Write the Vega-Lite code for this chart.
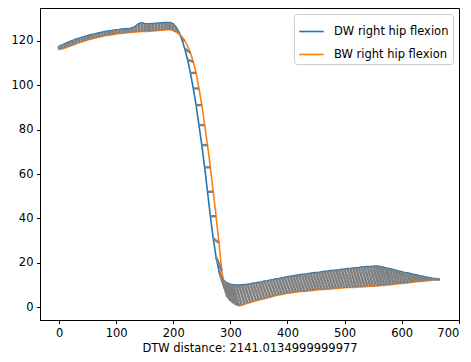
{
  "$schema": "https://vega.github.io/schema/vega-lite/v6.json",
  "width": 419,
  "height": 312,
  "autosize": {"type": "none"},
  "padding": {"left": 40, "top": 8, "right": 12, "bottom": 42},
  "background": "white",
  "config": {
    "view": {"stroke": "black", "strokeWidth": 1},
    "font": "DejaVu Sans",
    "axis": {
      "grid": false,
      "domainColor": "black",
      "domainWidth": 1,
      "tickColor": "black",
      "tickWidth": 1,
      "tickSize": 3.5,
      "labelFont": "DejaVu Sans",
      "labelFontSize": 11.5,
      "labelColor": "black",
      "labelPadding": 3.5,
      "titleFont": "DejaVu Sans",
      "titleFontSize": 11.5,
      "titleFontWeight": "normal",
      "titleColor": "black"
    },
    "legend": {
      "labelFont": "DejaVu Sans",
      "labelFontSize": 11.5,
      "labelColor": "black"
    }
  },
  "datasets": {
    "series": [
      {"x":0,"dw":117.5,"bw":116.0},{"x":5,"dw":118.0,"bw":116.3},{"x":10,"dw":118.6,"bw":116.7},{"x":15,"dw":119.2,"bw":117.2},
      {"x":20,"dw":119.7,"bw":117.6},{"x":25,"dw":120.2,"bw":118.1},{"x":30,"dw":120.7,"bw":118.6},{"x":35,"dw":121.1,"bw":119.1},
      {"x":40,"dw":121.5,"bw":119.5},{"x":45,"dw":121.9,"bw":119.9},{"x":50,"dw":122.3,"bw":120.3},{"x":55,"dw":122.6,"bw":120.7},
      {"x":60,"dw":122.9,"bw":121.0},{"x":65,"dw":123.2,"bw":121.3},{"x":70,"dw":123.5,"bw":121.6},{"x":75,"dw":123.8,"bw":121.9},
      {"x":80,"dw":124.1,"bw":122.2},{"x":85,"dw":124.3,"bw":122.4},{"x":90,"dw":124.5,"bw":122.6},{"x":95,"dw":124.7,"bw":122.8},
      {"x":100,"dw":124.9,"bw":123.0},{"x":105,"dw":125.0,"bw":123.2},{"x":110,"dw":125.2,"bw":123.3},{"x":115,"dw":125.3,"bw":123.5},
      {"x":120,"dw":125.4,"bw":123.6},{"x":125,"dw":125.6,"bw":123.7},{"x":130,"dw":125.9,"bw":123.8},{"x":135,"dw":126.8,"bw":123.9},
      {"x":140,"dw":127.7,"bw":124.0},{"x":145,"dw":128.0,"bw":124.1},{"x":150,"dw":127.7,"bw":124.2},{"x":155,"dw":127.6,"bw":124.2},
      {"x":160,"dw":127.6,"bw":124.3},{"x":165,"dw":127.7,"bw":124.4},{"x":170,"dw":127.8,"bw":124.5},{"x":175,"dw":127.9,"bw":124.6},
      {"x":180,"dw":128.0,"bw":124.7},{"x":185,"dw":128.1,"bw":124.8},{"x":190,"dw":128.2,"bw":124.9},{"x":195,"dw":128.2,"bw":124.9},
      {"x":200,"dw":127.5,"bw":124.5},{"x":205,"dw":126.0,"bw":123.9},{"x":210,"dw":123.8,"bw":123.1},{"x":215,"dw":120.5,"bw":121.9},
      {"x":220,"dw":116.5,"bw":120.0},{"x":225,"dw":111.5,"bw":117.6},{"x":230,"dw":105.5,"bw":114.5},{"x":235,"dw":98.5,"bw":110.5},
      {"x":240,"dw":91.0,"bw":105.5},{"x":245,"dw":82.0,"bw":98.5},{"x":250,"dw":73.0,"bw":91.0},{"x":255,"dw":63.0,"bw":82.0},
      {"x":260,"dw":52.0,"bw":73.0},{"x":265,"dw":41.0,"bw":63.0},{"x":270,"dw":31.0,"bw":52.0},{"x":275,"dw":22.5,"bw":41.0},
      {"x":280,"dw":16.5,"bw":29.0},{"x":285,"dw":13.3,"bw":16.5},{"x":290,"dw":11.7,"bw":8.5},{"x":295,"dw":10.9,"bw":4.6},
      {"x":300,"dw":10.4,"bw":3.0},{"x":305,"dw":10.1,"bw":2.0},{"x":310,"dw":10.0,"bw":1.2},{"x":315,"dw":10.0,"bw":0.7},
      {"x":320,"dw":10.1,"bw":0.9},{"x":325,"dw":10.2,"bw":1.4},{"x":330,"dw":10.4,"bw":1.8},{"x":335,"dw":10.6,"bw":2.2},
      {"x":340,"dw":10.8,"bw":2.6},{"x":345,"dw":11.0,"bw":3.0},{"x":350,"dw":11.3,"bw":3.3},{"x":355,"dw":11.5,"bw":3.6},
      {"x":360,"dw":11.8,"bw":3.9},{"x":365,"dw":12.0,"bw":4.3},{"x":370,"dw":12.3,"bw":4.6},{"x":375,"dw":12.5,"bw":5.0},
      {"x":380,"dw":12.8,"bw":5.3},{"x":385,"dw":13.0,"bw":5.6},{"x":390,"dw":13.3,"bw":5.8},{"x":395,"dw":13.5,"bw":6.1},
      {"x":400,"dw":13.8,"bw":6.3},{"x":405,"dw":14.0,"bw":6.5},{"x":410,"dw":14.2,"bw":6.7},{"x":415,"dw":14.4,"bw":6.8},
      {"x":420,"dw":14.6,"bw":7.0},{"x":425,"dw":14.8,"bw":7.1},{"x":430,"dw":15.0,"bw":7.2},{"x":435,"dw":15.1,"bw":7.4},
      {"x":440,"dw":15.3,"bw":7.5},{"x":445,"dw":15.5,"bw":7.6},{"x":450,"dw":15.7,"bw":7.8},{"x":455,"dw":15.8,"bw":7.9},
      {"x":460,"dw":16.0,"bw":8.0},{"x":465,"dw":16.2,"bw":8.1},{"x":470,"dw":16.3,"bw":8.2},{"x":475,"dw":16.5,"bw":8.3},
      {"x":480,"dw":16.6,"bw":8.4},{"x":485,"dw":16.8,"bw":8.5},{"x":490,"dw":16.9,"bw":8.6},{"x":495,"dw":17.1,"bw":8.7},
      {"x":500,"dw":17.2,"bw":8.8},{"x":505,"dw":17.4,"bw":8.9},{"x":510,"dw":17.5,"bw":8.9},{"x":515,"dw":17.7,"bw":9.0},
      {"x":520,"dw":17.8,"bw":9.1},{"x":525,"dw":17.9,"bw":9.2},{"x":530,"dw":18.1,"bw":9.2},{"x":535,"dw":18.2,"bw":9.3},
      {"x":540,"dw":18.3,"bw":9.4},{"x":545,"dw":18.4,"bw":9.5},{"x":550,"dw":18.5,"bw":9.5},{"x":555,"dw":18.6,"bw":9.6},
      {"x":560,"dw":18.5,"bw":9.7},{"x":565,"dw":18.2,"bw":9.8},{"x":570,"dw":17.9,"bw":9.9},{"x":575,"dw":17.6,"bw":10.1},
      {"x":580,"dw":17.3,"bw":10.2},{"x":585,"dw":17.0,"bw":10.3},{"x":590,"dw":16.7,"bw":10.5},{"x":595,"dw":16.3,"bw":10.6},
      {"x":600,"dw":16.0,"bw":10.8},{"x":605,"dw":15.7,"bw":10.9},{"x":610,"dw":15.5,"bw":11.0},{"x":615,"dw":15.2,"bw":11.2},
      {"x":620,"dw":14.9,"bw":11.3},{"x":625,"dw":14.6,"bw":11.5},{"x":630,"dw":14.3,"bw":11.6},{"x":635,"dw":14.1,"bw":11.7},
      {"x":640,"dw":13.8,"bw":11.9},{"x":645,"dw":13.5,"bw":12.0},{"x":650,"dw":13.3,"bw":12.1},{"x":655,"dw":13.0,"bw":12.3},
      {"x":660,"dw":12.8,"bw":12.4},{"x":665,"dw":12.6,"bw":12.5},{"x":667,"dw":12.6,"bw":12.6}
    ],
    "links": [
      {"bx":0,"ox":0,"part":"dense"},{"bx":5,"ox":5,"part":"dense"},{"bx":10,"ox":10,"part":"dense"},{"bx":15,"ox":15,"part":"dense"},
      {"bx":20,"ox":20,"part":"dense"},{"bx":25,"ox":25,"part":"dense"},{"bx":30,"ox":30,"part":"dense"},{"bx":35,"ox":35,"part":"dense"},
      {"bx":40,"ox":40,"part":"dense"},{"bx":45,"ox":45,"part":"dense"},{"bx":50,"ox":50,"part":"dense"},{"bx":55,"ox":55,"part":"dense"},
      {"bx":60,"ox":60,"part":"dense"},{"bx":65,"ox":65,"part":"dense"},{"bx":70,"ox":70,"part":"dense"},{"bx":75,"ox":75,"part":"dense"},
      {"bx":80,"ox":80,"part":"dense"},{"bx":85,"ox":85,"part":"dense"},{"bx":90,"ox":90,"part":"dense"},{"bx":95,"ox":95,"part":"dense"},
      {"bx":100,"ox":100,"part":"dense"},{"bx":105,"ox":105,"part":"dense"},{"bx":110,"ox":110,"part":"dense"},{"bx":115,"ox":115,"part":"dense"},
      {"bx":120,"ox":120,"part":"dense"},{"bx":125,"ox":125,"part":"dense"},{"bx":130,"ox":130,"part":"dense"},{"bx":135,"ox":135,"part":"dense"},
      {"bx":140,"ox":140,"part":"dense"},{"bx":145,"ox":145,"part":"dense"},{"bx":150,"ox":150,"part":"dense"},{"bx":155,"ox":155,"part":"dense"},
      {"bx":160,"ox":160,"part":"dense"},{"bx":165,"ox":165,"part":"dense"},{"bx":170,"ox":170,"part":"dense"},{"bx":175,"ox":175,"part":"dense"},
      {"bx":180,"ox":180,"part":"dense"},{"bx":185,"ox":185,"part":"dense"},{"bx":190,"ox":190,"part":"dense"},{"bx":195,"ox":195,"part":"dense"},
      {"bx":200,"ox":200,"part":"dense"},{"bx":205,"ox":205,"part":"dense"},
      {"bx":210,"ox":210,"part":"thin"},{"bx":215,"ox":220,"part":"thin"},{"bx":220,"ox":230,"part":"thin"},
      {"bx":225,"ox":235,"part":"thin"},{"bx":230,"ox":240,"part":"thin"},{"bx":235,"ox":245,"part":"thin"},{"bx":240,"ox":250,"part":"thin"},
      {"bx":245,"ox":255,"part":"thin"},{"bx":250,"ox":260,"part":"thin"},{"bx":255,"ox":265,"part":"thin"},{"bx":260,"ox":270,"part":"thin"},
      {"bx":265,"ox":275,"part":"thin"},{"bx":270,"ox":280,"part":"thin"},
      {"bx":275,"ox":285,"part":"mid"},{"bx":280,"ox":290,"part":"mid"},{"bx":285,"ox":295,"part":"mid"},{"bx":285,"ox":300,"part":"mid"},{"bx":290,"ox":300,"part":"mid"},
      {"bx":290,"ox":305,"part":"mid"},{"bx":295,"ox":305,"part":"mid"},{"bx":295,"ox":310,"part":"mid"},{"bx":300,"ox":310,"part":"mid"},
      {"bx":300,"ox":315,"part":"mid"},{"bx":305,"ox":315,"part":"mid"},{"bx":310,"ox":320,"part":"mid"},{"bx":315,"ox":325,"part":"mid"},
      {"bx":320,"ox":330,"part":"mid"},{"bx":325,"ox":335,"part":"mid"},{"bx":330,"ox":340,"part":"mid"},{"bx":335,"ox":345,"part":"mid"},
      {"bx":340,"ox":350,"part":"mid"},{"bx":345,"ox":355,"part":"mid"},{"bx":350,"ox":360,"part":"mid"},{"bx":355,"ox":365,"part":"mid"},
      {"bx":360,"ox":370,"part":"mid"},{"bx":365,"ox":375,"part":"mid"},{"bx":370,"ox":380,"part":"mid"},{"bx":375,"ox":385,"part":"mid"},
      {"bx":380,"ox":390,"part":"mid"},{"bx":385,"ox":395,"part":"mid"},{"bx":390,"ox":400,"part":"mid"},{"bx":395,"ox":405,"part":"mid"},
      {"bx":400,"ox":410,"part":"mid"},{"bx":405,"ox":415,"part":"mid"},{"bx":410,"ox":420,"part":"mid"},{"bx":415,"ox":425,"part":"mid"},
      {"bx":420,"ox":430,"part":"mid"},{"bx":425,"ox":435,"part":"mid"},{"bx":430,"ox":440,"part":"mid"},{"bx":435,"ox":445,"part":"mid"},
      {"bx":440,"ox":450,"part":"mid"},{"bx":445,"ox":455,"part":"mid"},{"bx":450,"ox":460,"part":"mid"},{"bx":455,"ox":465,"part":"mid"},
      {"bx":460,"ox":470,"part":"mid"},{"bx":465,"ox":475,"part":"mid"},{"bx":470,"ox":480,"part":"mid"},{"bx":475,"ox":485,"part":"mid"},
      {"bx":480,"ox":490,"part":"mid"},{"bx":485,"ox":495,"part":"mid"},{"bx":490,"ox":500,"part":"mid"},{"bx":495,"ox":505,"part":"mid"},
      {"bx":500,"ox":510,"part":"mid"},{"bx":505,"ox":515,"part":"mid"},{"bx":510,"ox":520,"part":"mid"},{"bx":515,"ox":525,"part":"mid"},
      {"bx":520,"ox":530,"part":"mid"},{"bx":525,"ox":535,"part":"mid"},{"bx":530,"ox":540,"part":"mid"},{"bx":535,"ox":545,"part":"mid"},
      {"bx":540,"ox":550,"part":"mid"},{"bx":545,"ox":555,"part":"mid"},
      {"bx":550,"ox":560,"part":"dense"},{"bx":555,"ox":565,"part":"dense"},{"bx":560,"ox":570,"part":"dense"},{"bx":565,"ox":575,"part":"dense"},
      {"bx":570,"ox":580,"part":"dense"},{"bx":575,"ox":580,"part":"dense"},{"bx":580,"ox":585,"part":"dense"},{"bx":585,"ox":590,"part":"dense"},
      {"bx":590,"ox":595,"part":"dense"},{"bx":595,"ox":600,"part":"dense"},{"bx":600,"ox":605,"part":"dense"},{"bx":605,"ox":610,"part":"dense"},
      {"bx":610,"ox":615,"part":"dense"},{"bx":615,"ox":620,"part":"dense"},{"bx":620,"ox":625,"part":"dense"},{"bx":625,"ox":630,"part":"dense"},
      {"bx":630,"ox":635,"part":"dense"},{"bx":635,"ox":640,"part":"dense"},{"bx":640,"ox":645,"part":"dense"},{"bx":645,"ox":650,"part":"dense"},
      {"bx":650,"ox":655,"part":"dense"},{"bx":655,"ox":660,"part":"dense"},{"bx":660,"ox":665,"part":"dense"},{"bx":665,"ox":667,"part":"dense"},
      {"bx":667,"ox":667,"part":"dense"}
    ]
  },
  "layer": [
    {
      "data": {"name": "series"},
      "transform": [{"fold": ["dw", "bw"], "as": ["key", "value"]}],
      "mark": {"type": "line", "strokeWidth": 1.6},
      "encoding": {
        "x": {
          "field": "x", "type": "quantitative",
          "scale": {"domain": [-33.35, 700.35], "nice": false, "zero": false},
          "axis": {"values": [0,100,200,300,400,500,600,700], "format": "d", "title": "DTW distance: 2141.0134999999977", "titlePadding": 4}
        },
        "y": {
          "field": "value", "type": "quantitative",
          "scale": {"domain": [-5.7, 134.7], "nice": false, "zero": false},
          "axis": {"values": [0,20,40,60,80,100,120], "format": "d", "title": null}
        },
        "color": {
          "field": "key", "type": "nominal",
          "scale": {"domain": ["dw", "bw"], "range": ["#1f77b4", "#ff7f0e"]},
          "legend": {
            "title": null,
            "orient": "none",
            "legendX": 254,
            "legendY": 6,
            "symbolType": "stroke",
            "symbolSize": 600,
            "symbolStrokeWidth": 1.6,
            "labelOffset": 9,
            "rowPadding": 4,
            "padding": 4,
            "fillColor": "rgba(255,255,255,0.8)",
            "strokeColor": "#cccccc",
            "cornerRadius": 3,
            "labelExpr": "datum.label == 'dw' ? 'DW right hip flexion' : 'BW right hip flexion'"
          }
        }
      }
    },
    {
      "data": {"name": "links"},
      "transform": [
        {"lookup": "bx", "from": {"data": {"name": "series"}, "key": "x", "fields": ["dw"]}},
        {"lookup": "ox", "from": {"data": {"name": "series"}, "key": "x", "fields": ["bw"]}}
      ],
      "mark": {"type": "rule", "color": "#808080"},
      "encoding": {
        "x": {"field": "bx", "type": "quantitative", "scale": {"domain": [-33.35, 700.35], "nice": false, "zero": false}, "title": "DTW distance: 2141.0134999999977"},
        "y": {"field": "dw", "type": "quantitative", "title": null},
        "x2": {"field": "ox"},
        "y2": {"field": "bw"},
        "strokeWidth": {
          "field": "part", "type": "ordinal",
          "scale": {"domain": ["dense", "mid", "thin"], "range": [2.8, 2.4, 0.6]},
          "legend": null
        }
      }
    }
  ]
}
